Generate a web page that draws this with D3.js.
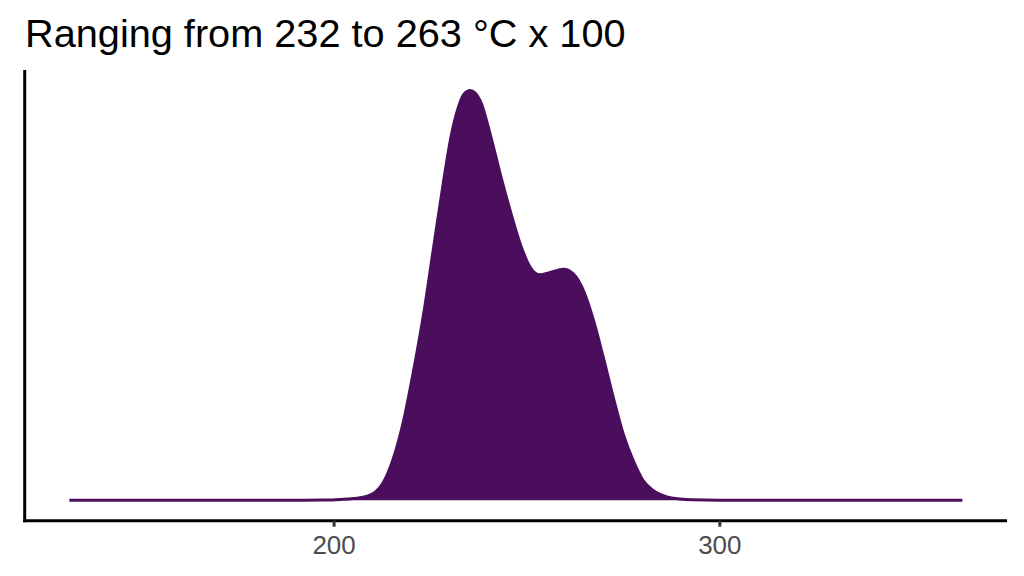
<!DOCTYPE html>
<html>
<head>
<meta charset="utf-8">
<style>
  body { margin: 0; background: #fff; }
  svg { display: block; }
  .title { font-family: "Liberation Sans", Arial, sans-serif; font-size: 39.7px; fill: #000; }
  .axis text { font-family: "Liberation Sans", Arial, sans-serif; font-size: 26px; fill: #4d4d4d; }
  .axis .domain { stroke: #000; stroke-width: 3px; }
  .axis .tick line { stroke: #333; stroke-width: 3px; }
  .area { fill: #4a0e5c; }
  .outline { fill: none; stroke: #4a0e5c; stroke-width: 3px; }
</style>
</head>
<body>
<div id="chart"></div>
<script src="https://cdn.jsdelivr.net/npm/d3@7"></script>
<script>
  // temperature (°C x 100 / 100) and scaled density
  var temps = [131.5, 150, 170, 190, 197, 201.7, 206.9, 210.4, 213.0, 215.5,
               218.1, 220.7, 223.3, 225.9, 228.5, 230.2, 232.0, 233.7, 235.4, 238.0,
               240.6, 243.2, 245.8, 248.4, 251.0, 253.5, 256.1, 259.6, 262.2, 264.8,
               267.4, 269.9, 272.5, 275.1, 277.7, 280.3, 282.9, 286.4, 289.8, 293,
               300, 320, 340, 363];
  var density = [0, 0, 0, 0, 0.0005, 0.002, 0.006, 0.017, 0.045, 0.102,
                 0.192, 0.314, 0.452, 0.615, 0.778, 0.875, 0.948, 0.99, 1.0, 0.975,
                 0.893, 0.796, 0.706, 0.625, 0.568, 0.550, 0.556, 0.564, 0.552, 0.511,
                 0.438, 0.349, 0.251, 0.161, 0.096, 0.047, 0.023, 0.008, 0.003, 0.001,
                 0, 0, 0, 0];
  var xTicks = [200, 300];
  var title = "Ranging from 232 to 263 °C x 100";

  var width = 1024,
      height = 576;
  var panel = {left: 24.7, right: 1007, top: 70, bottom: 520.7};

  var pts = temps.map(function(t, i){ return [t, density[i]]; });

  var xmin = d3.min(temps), xmax = d3.max(temps),
      xpad = (xmax - xmin) * 0.05;
  var ymax = d3.max(density), ypad = ymax * 0.05;

  var x = d3.scaleLinear()
          .domain([xmin - xpad, xmax + xpad])
          .range([panel.left, panel.right]);
  var y = d3.scaleLinear()
          .domain([-ypad, ymax + ypad])
          .range([panel.bottom, panel.top]);

  var svg = d3.select("#chart").append("svg")
          .attr("width", width)
          .attr("height", height);

  svg.append("path")
          .attr("class", "area")
          .attr("d", d3.area()
                  .x(function(d){ return x(d[0]); })
                  .y0(y(0))
                  .y1(function(d){ return y(d[1]); })
                  .curve(d3.curveMonotoneX)(pts));

  svg.append("path")
          .attr("class", "outline")
          .attr("d", d3.line()
                  .x(function(d){ return x(d[0]); })
                  .y(function(d){ return y(d[1]); })
                  .curve(d3.curveMonotoneX)(pts));

  var xAxis = svg.append("g")
          .attr("class", "axis")
          .attr("transform", "translate(0," + panel.bottom + ")")
          .call(d3.axisBottom(x).tickValues(xTicks).tickSize(6).tickPadding(9).tickSizeOuter(0));
  xAxis.select(".domain").attr("d", "M" + (panel.left - 1.5) + ",0H" + panel.right);

  svg.append("line")
          .attr("x1", panel.left).attr("x2", panel.left)
          .attr("y1", panel.top).attr("y2", panel.bottom + 1.5)
          .attr("stroke", "#000")
          .attr("stroke-width", 3);

  svg.append("text")
          .attr("class", "title")
          .attr("x", 25)
          .attr("y", 47)
          .text(title);
</script>
</body>
</html>
